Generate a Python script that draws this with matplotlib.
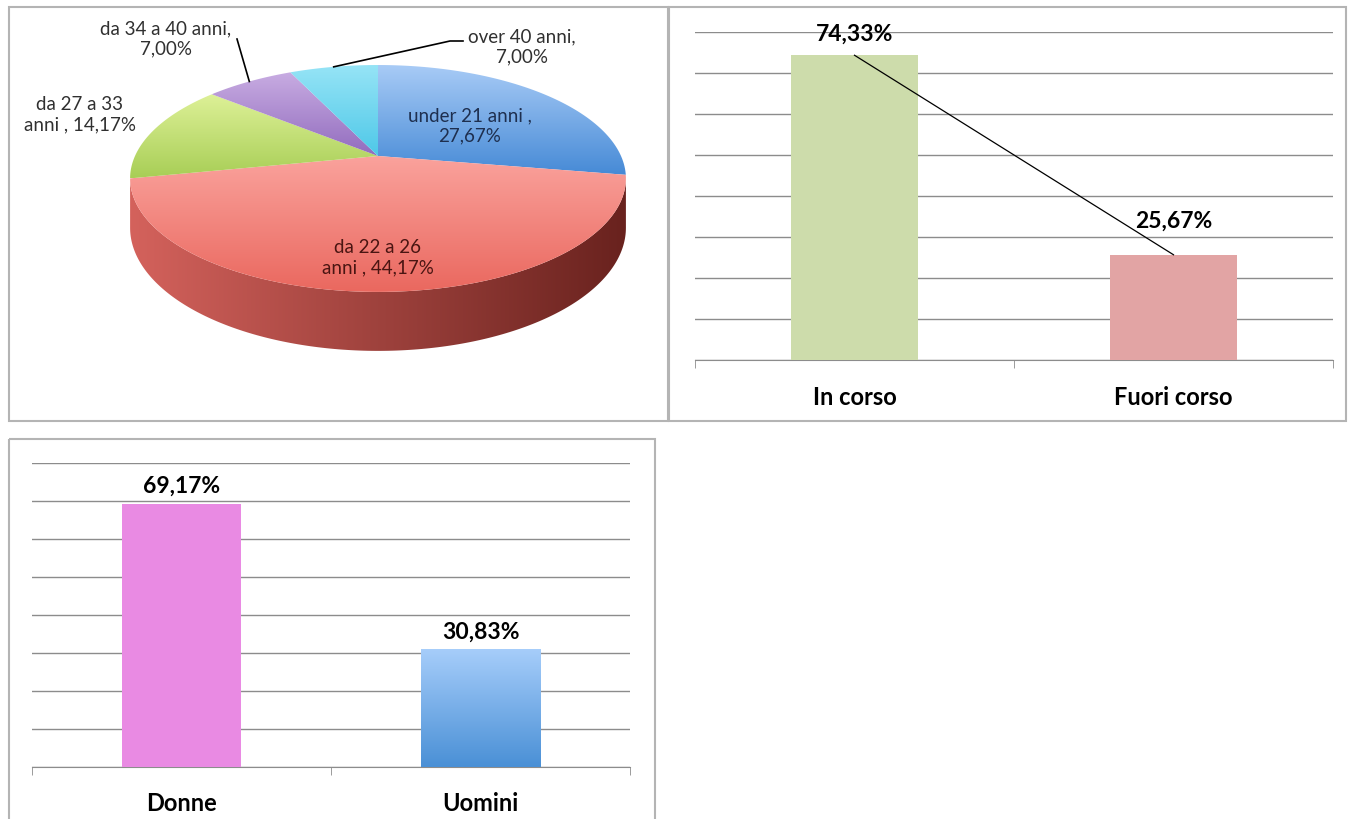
import numpy as np
import matplotlib
matplotlib.use('Agg')
import matplotlib.pyplot as plt
from matplotlib.patches import Polygon, Rectangle

plt.rcParams['font.family'] = ['Lato', 'DejaVu Sans']

# --- data ---
eta_labels = ["under 21 anni ,\n", "da 22 a 26\nanni , ", "da 27 a 33\nanni , ",
              "da 34 a 40 anni,\n", "over 40 anni,\n"]
eta_values = [27.67, 44.17, 14.17, 7.00, 7.00]

corso_cats = ["In corso", "Fuori corso"]
corso_values = [74.33, 25.67]

sesso_cats = ["Donne", "Uomini"]
sesso_values = [69.17, 30.83]


def fmt(v):
    return f"{v:.2f}%".replace('.', ',')


def rgb(c):
    return np.array(c, dtype=float) / 255.0


W, H = 1349, 820
fig = plt.figure(figsize=(W / 100, H / 100), dpi=100)
fig.patch.set_facecolor('white')

# full-figure axes in pixel coordinates (borders + 3D pie)
bg = fig.add_axes([0, 0, 1, 1])
bg.set_xlim(0, W)
bg.set_ylim(H, 0)
bg.axis('off')

border = '#b4b4b4'
for x0, y0, x1, y1 in [(9, 8, 668, 422), (669, 8, 1346, 422), (9, 440, 655, 830)]:
    bg.add_patch(Rectangle((x0, y0), x1 - x0, y1 - y0, fill=False,
                           edgecolor=border, linewidth=1.5))


def gradient_fill(ax, patch, c_start, c_end, horizontal=False, n=200):
    ax.add_patch(patch)
    verts = patch.get_xy()
    x0, y0 = verts.min(axis=0)
    x1, y1 = verts.max(axis=0)
    t = np.linspace(0, 1, n)[:, None]
    cols = rgb(c_start) * (1 - t) + rgb(c_end) * t
    if horizontal:
        img = cols[None, :, :]
    else:
        img = cols[:, None, :]
    im = ax.imshow(img, extent=(x0, x1, y1, y0), origin='upper',
                   aspect='auto', interpolation='bilinear', zorder=patch.get_zorder())
    im.set_clip_path(patch)


# --- 3D pie (simple perspective projection of a tilted disc) ---
cx, cy = 378, 157
A, B, D, k = 243, 109, 47.3, 0.198


def proj(phi, h=0.0):
    phi = np.radians(phi)
    u, v = np.cos(phi), np.sin(phi)
    w = 1 + k * v
    return cx + A * u / w, cy - (B * v - D * h) / w


# side (front rim) of the pie
phi_l = -180 + np.degrees(np.arcsin(k))
phi_r = -np.degrees(np.arcsin(k))
arc = np.linspace(phi_l, phi_r, 200)
top_x, top_y = proj(arc, 0)
bot_x, bot_y = proj(arc[::-1], 1)
side = Polygon(np.column_stack([np.r_[top_x, bot_x], np.r_[top_y, bot_y]]),
               closed=True, facecolor='none', edgecolor='none', zorder=2)
gradient_fill(bg, side, (212, 98, 92), (105, 34, 30), horizontal=True)

wedge_cols = [((168, 203, 246), (70, 138, 214)),
              ((250, 162, 156), (234, 104, 95)),
              ((222, 241, 152), (168, 206, 86)),
              ((200, 172, 226), (146, 108, 190)),
              ((150, 228, 246), (78, 200, 232))]

start = 90.0
for val, (c0, c1) in zip(eta_values, wedge_cols):
    end = start - val * 3.6
    ang = np.linspace(start, end, 120)
    ex, ey = proj(ang, 0)
    poly = Polygon(np.column_stack([np.r_[cx, ex], np.r_[cy, ey]]), closed=True,
                   facecolor='none', edgecolor='none', zorder=3)
    gradient_fill(bg, poly, c0, c1)
    start = end

lab_font = 13.5
bg.text(470, 126, eta_labels[0] + fmt(eta_values[0]), ha='center', va='center',
        fontsize=lab_font, color='#1e2f4f', linespacing=1.25, zorder=5)
bg.text(378, 258, eta_labels[1] + fmt(eta_values[1]), ha='center', va='center',
        fontsize=lab_font, color='#4a1512', linespacing=1.25, zorder=5)
bg.text(80, 115, eta_labels[2] + fmt(eta_values[2]), ha='center', va='center',
        fontsize=lab_font, color='#303030', linespacing=1.25, zorder=5)
bg.text(166, 39, eta_labels[3] + fmt(eta_values[3]), ha='center', va='center',
        fontsize=lab_font, color='#303030', linespacing=1.25, zorder=5)
bg.text(522, 47, eta_labels[4] + fmt(eta_values[4]), ha='center', va='center',
        fontsize=lab_font, color='#303030', linespacing=1.25, zorder=5)

# leader lines for the two small slices
cum = np.cumsum([0] + eta_values)
mid3 = 90 - (cum[3] + cum[4]) / 2 * 3.6
mid4 = 90 - (cum[4] + cum[5]) / 2 * 3.6
p3 = proj(mid3)
p4 = proj(mid4)
bg.plot([237, p3[0]], [40, p3[1]], color='black', lw=1.2, zorder=4)
bg.plot([p4[0], 450, 463], [p4[1], 42, 42], color='black', lw=1.2, zorder=4)


def px_axes(x0, y0, x1, y1):
    return fig.add_axes([x0 / W, 1 - y1 / H, (x1 - x0) / W, (y1 - y0) / H])


def bar_panel(ax, cats, values, colors, lab_offsets, label_pad):
    x = np.arange(len(cats))
    bars = ax.bar(x, values, width=0.4, color=colors, zorder=3)
    ax.set_xlim(-0.5, len(cats) - 0.5)
    ax.set_ylim(0, 80)
    ax.set_yticks(np.arange(0, 81, 10))
    ax.yaxis.grid(True, color='#8c8c8c', linewidth=1.0)
    ax.set_axisbelow(True)
    ax.tick_params(axis='y', length=0, labelleft=False)
    for s in ['top', 'right', 'left']:
        ax.spines[s].set_visible(False)
    ax.spines['bottom'].set_color('#8c8c8c')
    ax.set_xticks(x)
    ax.set_xticklabels(cats, fontsize=17, fontweight='bold')
    ax.set_xticks(np.arange(-0.5, len(cats)), minor=True)
    ax.tick_params(axis='x', which='major', length=0, pad=label_pad)
    ax.tick_params(axis='x', which='minor', length=6, color='#8c8c8c', direction='out')
    ax.patch.set_alpha(0)
    for xi, v, off in zip(x, values, lab_offsets):
        ax.annotate(fmt(v), (xi, v), xytext=(0, off), textcoords='offset points',
                    ha='center', va='bottom', fontsize=16.5, fontweight='bold')
    return bars


# --- In corso / Fuori corso ---
ax1 = px_axes(695, 33, 1333, 361)
bar_panel(ax1, corso_cats, corso_values, ['#cddcab', '#e2a4a4'], [8, 17], 18)
ax1.plot(np.arange(len(corso_values)), corso_values, color='black', lw=0.9, zorder=4)

# --- Donne / Uomini ---
ax2 = px_axes(32, 464, 630, 768)
bars2 = bar_panel(ax2, sesso_cats, sesso_values, ['#e98ae3', '#7fb0ec'], [6, 6], 17.5)
b = bars2[1]
bx, by = b.get_x(), b.get_y()
bw, bh = b.get_width(), b.get_height()
t = np.linspace(0, 1, 100)[:, None]
cols = rgb((166, 205, 250)) * (1 - t) + rgb((74, 144, 214)) * t
ax2.imshow(cols[:, None, :], extent=(bx, bx + bw, by, by + bh), origin='upper',
           aspect='auto', zorder=3.5)
ax2.set_xlim(-0.5, 1.5)
ax2.set_ylim(0, 80)

fig.savefig('out.png', dpi=100)
